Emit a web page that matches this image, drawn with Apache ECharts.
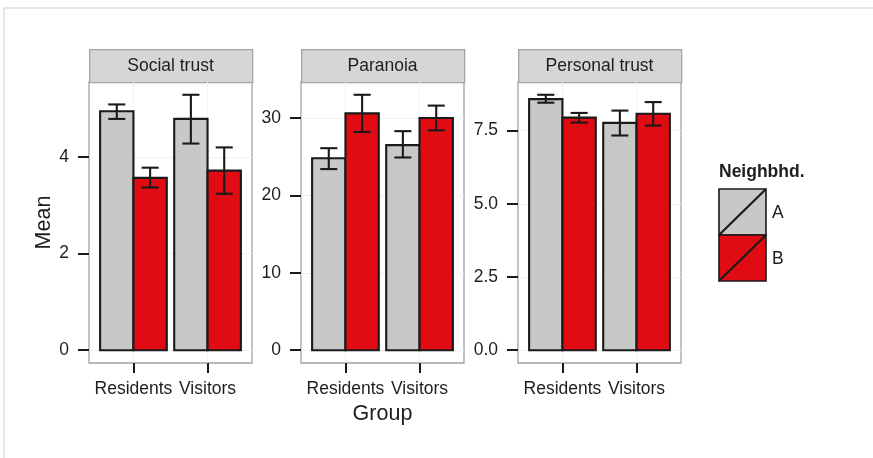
<!DOCTYPE html>
<html>
<head>
<meta charset="utf-8">
<script src="https://cdn.jsdelivr.net/npm/echarts@6/dist/echarts.min.js"></script>
<style>
  html, body { margin: 0; padding: 0; background: #fff; }
  #frame { position: absolute; left: 3px; top: 7px; width: 900px; height: 500px;
           border-top: 2px solid #e3e5ef; border-left: 2px solid #e3e5ef; }
  #chart { position: absolute; left: 0; top: 0; width: 873px; height: 458px; }
</style>
</head>
<body>
<div id="frame"></div>
<div id="chart"></div>
<script>
// ---- data ----
const groups = ['Residents', 'Visitors'];
const neighbourhoods = ['A', 'B'];
const panelNames = ['Social trust', 'Paranoia', 'Personal trust'];

const socialMeanA = [4.95, 4.79];
const socialLowA  = [4.79, 4.28];
const socialHighA = [5.09, 5.29];
const socialMeanB = [3.57, 3.72];
const socialLowB  = [3.37, 3.24];
const socialHighB = [3.78, 4.20];

const paranoiaMeanA = [24.8, 26.5];
const paranoiaLowA  = [23.4, 24.9];
const paranoiaHighA = [26.1, 28.3];
const paranoiaMeanB = [30.6, 30.0];
const paranoiaLowB  = [28.2, 28.4];
const paranoiaHighB = [33.0, 31.6];

const personalMeanA = [8.57, 7.76];
const personalLowA  = [8.45, 7.33];
const personalHighA = [8.72, 8.18];
const personalMeanB = [7.94, 8.07];
const personalLowB  = [7.77, 7.67];
const personalHighB = [8.10, 8.47];

const socialTicks = [0, 2, 4];
const socialTickLabels = ['0', '2', '4'];
const paranoiaTicks = [0, 10, 20, 30];
const paranoiaTickLabels = ['0', '10', '20', '30'];
const personalTicks = [0, 2.5, 5, 7.5];
const personalTickLabels = ['0.0', '2.5', '5.0', '7.5'];

const yTitle = 'Mean';
const xTitle = 'Group';
const legendTitle = 'Neighbhd.';

// ---- styles / layout ----
const FONT = "'Liberation Sans', Arial, sans-serif";
const FS = 17.5;
const colors = ['#c8c8c8', '#e10b14'];
const edge = '#1a1a1a';
const textColor = '#1e1e1e';
const panelLeft = [89, 301, 518];
const panelWidth = 163;
const panelTop = 82;
const panelHeight = 281;
const stripTop = 49;
const stripHeight = 33;
const dodge = 0.45;

const panels = [
  { name: panelNames[0], mean: [socialMeanA, socialMeanB], low: [socialLowA, socialLowB], high: [socialHighA, socialHighB], ticks: socialTicks, labels: socialTickLabels },
  { name: panelNames[1], mean: [paranoiaMeanA, paranoiaMeanB], low: [paranoiaLowA, paranoiaLowB], high: [paranoiaHighA, paranoiaHighB], ticks: paranoiaTicks, labels: paranoiaTickLabels },
  { name: panelNames[2], mean: [personalMeanA, personalMeanB], low: [personalLowA, personalLowB], high: [personalHighA, personalHighB], ticks: personalTicks, labels: personalTickLabels }
];

const grid = [], xAxis = [], yAxis = [], series = [], graphic = [];

panels.forEach((p, i) => {
  grid.push({ left: panelLeft[i], top: panelTop, width: panelWidth, height: panelHeight,
    show: true, backgroundColor: '#ffffff', borderColor: '#a3a3a3', borderWidth: 1.3 });

  const catVals = groups.map((g, j) => j + 1);
  xAxis.push({
    type: 'value', gridIndex: i, min: 0.4, max: groups.length + 0.6,
    axisLine: { show: false, onZero: false },
    axisTick: { show: true, customValues: catVals, length: 10, lineStyle: { color: '#1a1a1a', width: 2 } },
    axisLabel: { customValues: catVals, formatter: v => groups[Math.round(v) - 1], fontSize: FS, color: textColor, fontFamily: FONT, margin: 17 },
    splitLine: { show: true, lineStyle: { color: '#f2f2f2', width: 1 } },
    name: i === 1 ? xTitle : '', nameLocation: 'middle', nameGap: 40, nameMoveOverlap: false,
    nameTextStyle: { fontSize: 21.5, color: textColor, fontFamily: FONT }
  });

  const maxHi = Math.max(...p.high[0], ...p.high[1]);
  const span = maxHi;
  yAxis.push({
    type: 'value', gridIndex: i, min: -0.05 * span, max: maxHi + 0.05 * span,
    axisLine: { show: false, onZero: false },
    axisTick: { show: true, customValues: p.ticks, length: 11, lineStyle: { color: '#1a1a1a', width: 2 } },
    axisLabel: { customValues: p.ticks, formatter: v => p.labels[p.ticks.indexOf(v)], fontSize: FS, color: textColor, fontFamily: FONT, margin: 20 },
    splitLine: { show: true, lineStyle: { color: '#f0f0f0', width: 1 } },
    name: i === 0 ? yTitle : '', nameLocation: 'middle', nameGap: 34, nameMoveOverlap: false,
    nameTextStyle: { fontSize: 21.5, color: textColor, fontFamily: FONT }
  });

  neighbourhoods.forEach((nb, k) => {
    const off = k === 0 ? -dodge : 0;
    series.push({
      type: 'custom', name: nb, xAxisIndex: i, yAxisIndex: i, z: 2,
      itemStyle: { color: colors[k] },
      data: groups.map((g, j) => [j + 1, p.mean[k][j]]),
      renderItem: (params, api) => {
        const x = api.value(0), v = api.value(1);
        const a = api.coord([x + off, 0]);
        const b = api.coord([x + off + dodge, v]);
        return { type: 'rect', shape: { x: a[0], y: b[1], width: b[0] - a[0], height: a[1] - b[1] },
          style: { fill: colors[k], stroke: edge, lineWidth: 2.1 } };
      }
    });
  });
  neighbourhoods.forEach((nb, k) => {
    const c = k === 0 ? -dodge / 2 : dodge / 2;
    series.push({
      type: 'custom', name: nb + ' error', xAxisIndex: i, yAxisIndex: i, z: 3,
      data: groups.map((g, j) => [j + 1, p.low[k][j], p.high[k][j]]),
      renderItem: (params, api) => {
        const x = api.value(0) + c;
        const lo = api.coord([x, api.value(1)]);
        const hi = api.coord([x, api.value(2)]);
        const w = api.coord([x + 0.115, 0])[0] - lo[0];
        const st = { stroke: edge, lineWidth: 2.1 };
        return { type: 'group', children: [
          { type: 'line', shape: { x1: lo[0], y1: lo[1], x2: hi[0], y2: hi[1] }, style: st },
          { type: 'line', shape: { x1: lo[0] - w, y1: lo[1], x2: lo[0] + w, y2: lo[1] }, style: st },
          { type: 'line', shape: { x1: hi[0] - w, y1: hi[1], x2: hi[0] + w, y2: hi[1] }, style: st }
        ] };
      }
    });
  });

  // strip
  graphic.push({ type: 'rect', left: panelLeft[i], top: stripTop,
    shape: { width: panelWidth, height: stripHeight },
    style: { fill: '#d6d6d6', stroke: '#a3a3a3', lineWidth: 1.3 } });
  graphic.push({ type: 'text', x: panelLeft[i] + panelWidth / 2, y: stripTop + stripHeight / 2 + 1,
    style: { text: p.name, fontSize: FS, fontFamily: FONT, fill: textColor, align: 'center', verticalAlign: 'middle' } });
});

// legend
graphic.push({ type: 'text', x: 719, y: 172, style: { text: legendTitle, fontSize: FS, fontWeight: 'bold', fontFamily: FONT, fill: textColor, verticalAlign: 'middle' } });
neighbourhoods.forEach((nb, k) => {
  const top = 189 + k * 46;
  graphic.push({ type: 'rect', shape: { x: 719, y: top, width: 47, height: 46 }, style: { fill: colors[k], stroke: edge, lineWidth: 1.6 } });
  graphic.push({ type: 'line', shape: { x1: 719, y1: top + 46, x2: 766, y2: top }, style: { stroke: edge, lineWidth: 2.2 } });
  graphic.push({ type: 'text', x: 772, y: top + 24, style: { text: nb, fontSize: FS, fontFamily: FONT, fill: textColor, verticalAlign: 'middle' } });
});

const chart = echarts.init(document.getElementById('chart'), null, { renderer: 'canvas' });
chart.setOption({
  animation: false,
  backgroundColor: 'transparent',
  textStyle: { fontFamily: FONT },
  grid, xAxis, yAxis, series, graphic
});
</script>
</body>
</html>
